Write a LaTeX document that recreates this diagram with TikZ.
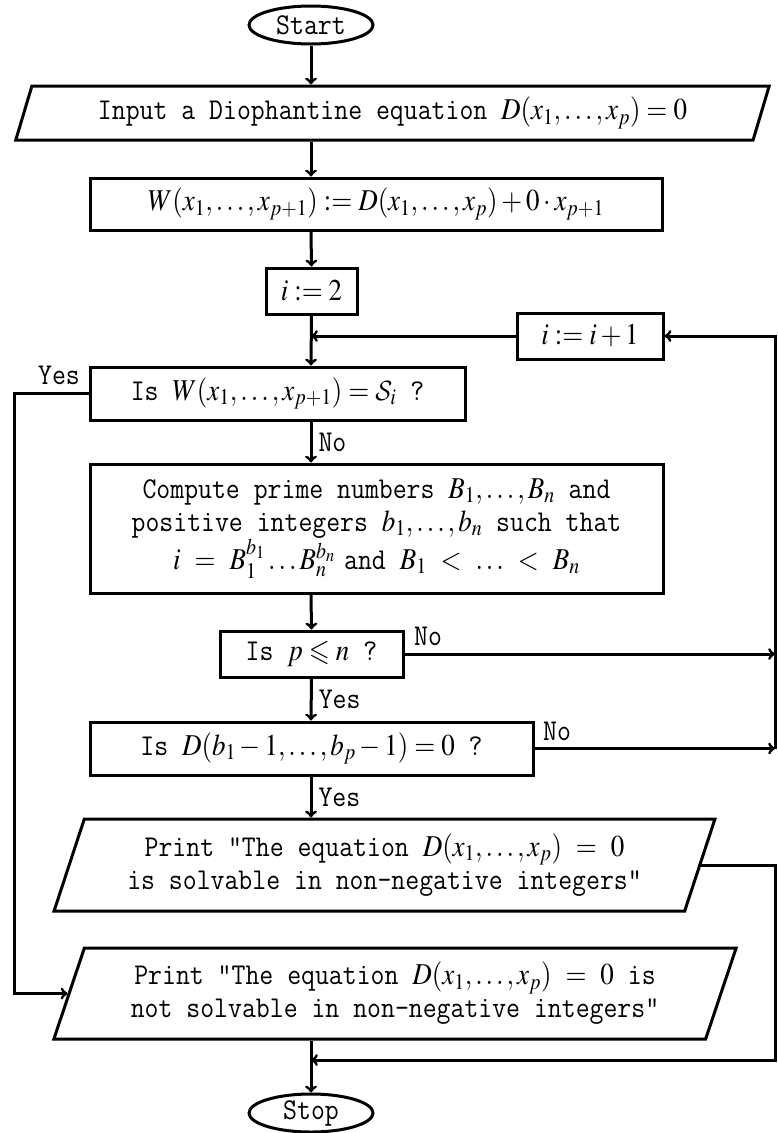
\documentclass[tikz,border=0pt]{standalone}
\usepackage{amssymb}
\usepackage{mathptmx}
\usepackage{graphicx}
\DeclareMathAlphabet{\mathcal}{OMS}{cmsy}{m}{n}
\newcommand{\vs}[1]{\scalebox{1}[1.12]{#1}}
\usetikzlibrary{shapes.geometric}
\begin{document}
\begin{tikzpicture}[x=1pt,y=-1pt,
  every node/.style={font=\fontsize{27}{33}\selectfont\ttfamily},
  conn/.style={line width=3pt,->},
  term/.style={ellipse,draw,line width=3pt,minimum width=124pt,minimum height=38pt,inner sep=0pt},
  procbox/.style={rectangle,draw,line width=3pt,inner sep=0pt,align=center},
  para/.style={trapezium,draw,line width=3pt,trapezium left angle=67.5,trapezium right angle=112.5,trapezium stretches=true,inner sep=0pt,align=center},
  lbl/.style={inner sep=0pt}
]
\useasboundingbox (0,0) rectangle (777,1133);
\coordinate (mx) at (311,0);
\coordinate (lx) at (14,0);
\coordinate (rx) at (775,0);
\coordinate (ret) at (311,1060);

\node[term] (start) at (311,25) {\vs{Start}};
\node[para,minimum width=757pt,minimum height=54pt] (input) at (392.5,113) {\vs{Input a Diophantine equation $D(x_1,\ldots,x_p)=0$}};
\node[procbox,minimum width=572pt,minimum height=52pt] (W) at (376,204) {\vs{$W(x_1,\ldots,x_{p+1}) := D(x_1,\ldots,x_p) + 0\cdot x_{p+1}$}};
\node[procbox,minimum width=91pt,minimum height=46pt] (i2) at (311.5,291) {\vs{$i := 2$}};
\node[procbox,minimum width=146pt,minimum height=46pt] (inc) at (590,336) {\vs{$i := i+1$}};
\node[procbox,minimum width=375pt,minimum height=53pt] (isW) at (277.5,393.5) {\vs{Is\ $W(x_1,\ldots,x_{p+1}) = \mathcal{S}_i$\ ?}};
\node[procbox,minimum width=573pt,minimum height=129pt] (comp) at (376.5,528.5) {\vs{Compute prime numbers $B_1,\ldots,B_n$ and}\\\vs{positive integers $b_1,\ldots,b_n$ such that}\\\vs{$i$\ $=$\ $B_1^{b_1}\ldots B_n^{b_n}$\,\,and $B_1$\ $<$\ $\ldots$\ $<$\ $B_n$}};
\node[procbox,minimum width=183pt,minimum height=46pt] (isp) at (311.5,654) {\vs{Is\ $p \leqslant n$\ ?}};
\node[procbox,minimum width=443pt,minimum height=53pt] (isD) at (311.5,748.5) {\vs{Is\ $D(b_1-1,\ldots,b_p-1)=0$\ ?}};
\node[para,minimum width=665pt,minimum height=92pt] (print1) at (384.5,865) {\vs{Print "The equation $D(x_1,\ldots,x_p)$\ $=$\ $0$}\\\vs{is solvable in non-negative integers"}};
\node[para,minimum width=688pt,minimum height=91pt] (print2) at (395,993.5) {\vs{Print "The equation $D(x_1,\ldots,x_p)$\ $=$\ $0$ is}\\\vs{not solvable in non-negative integers"}};
\node[term] (stop) at (311,1113) {\vs{Stop}};

\draw[conn] (start.south) -- (mx |- input.north);
\draw[conn] (mx |- input.south) -- (mx |- W.north);
\draw[conn] (mx |- W.south) -- (i2.north);
\draw[conn] (i2.south) -- (mx |- isW.north);
\draw[conn] (inc.west) -- (mx |- inc.west);
\draw[conn] (mx |- isW.south) -- node[lbl,right=6pt] {\vs{No}} (mx |- comp.north);
\draw[conn] (isW.west) -- (isW.west -| lx) |- (print2.west);
\node[lbl] (yes1) at (59,375) {\vs{Yes}};
\draw[conn] (mx |- comp.south) -- (isp.north);
\draw[conn] (isp.east) -- (isp.east -| rx);
\node[lbl] (no2) at (428,636) {\vs{No}};
\draw[conn] (isp.south) -- node[lbl,right=6pt] {\vs{Yes}} (mx |- isD.north);
\draw[conn] (isD.east) -- (isD.east -| rx);
\node[lbl] (no3) at (557,731) {\vs{No}};
\draw[conn] (isD.east -| rx) -- (rx |- inc.east) -- (inc.east);
\draw[conn] (mx |- isD.south) -- node[lbl,right=6pt] {\vs{Yes}} (mx |- print1.north);
\draw[conn] (print1.east) -- (print1.east -| rx) -- (rx |- ret) -- (ret);
\draw[conn] (mx |- print2.south) -- (stop.north);
\end{tikzpicture}
\end{document}
